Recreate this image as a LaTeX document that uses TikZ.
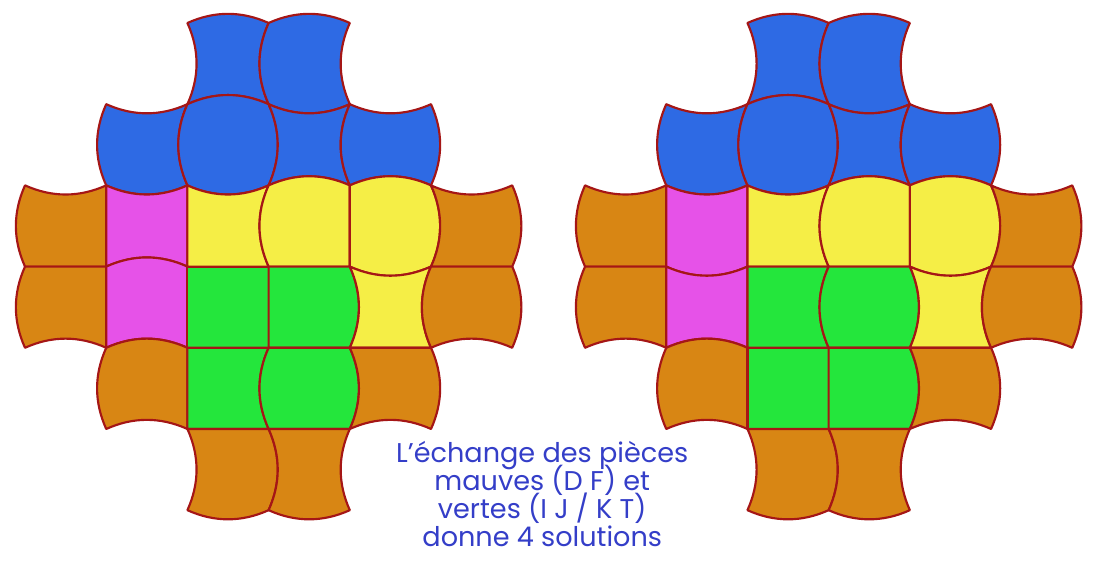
\documentclass[tikz,border=0pt]{standalone}
\usepackage{fontspec}
\setmainfont{Poppins}
\usepackage{xcolor}
\usepackage{tikz}
\usetikzlibrary{positioning}

\definecolor{bleu}{RGB}{46,106,228}
\definecolor{mauve}{RGB}{230,82,232}
\definecolor{jaune}{RGB}{245,238,70}
\definecolor{vert}{RGB}{36,230,60}
\definecolor{ocre}{RGB}{216,134,20}
\definecolor{bord}{RGB}{165,22,22}
\definecolor{texte}{RGB}{52,62,200}

\newcommand\serre{\fontsize{11.4}{11.8}\selectfont\setlength{\lineskiplimit}{-20pt}\relax}

\newcommand\bulge{0.15}
\newcommand\tile[7]{%
  \filldraw[piece, fill=#3, shift={(#1,#2)}]
    (0,0) .. controls +(1/3,{#4*\bulge}) and +(-1/3,{#4*\bulge}) .. (1,0)
          .. controls +({#5*\bulge},1/3) and +({#5*\bulge},-1/3) .. (1,1)
          .. controls +(-1/3,{#6*\bulge}) and +(1/3,{#6*\bulge}) .. (0,1)
          .. controls +({#7*\bulge},-1/3) and +({#7*\bulge},1/3) .. (0,0) -- cycle;}

\newcommand\board[3]{%
  \tile{2}{0}{bleu}{-1}{-1}{-1}{1}
  \tile{3}{0}{bleu}{-1}{-1}{1}{-1}
  \tile{1}{1}{bleu}{1}{-1}{1}{-1}
  \tile{2}{1}{bleu}{-1}{1}{1}{-1}
  \tile{3}{1}{bleu}{1}{-1}{-1}{1}
  \tile{4}{1}{bleu}{1}{1}{-1}{-1}
  \tile{0}{2}{ocre}{1}{0}{0}{-1}
  \tile{1}{2}{mauve}{1}{0}{#1}{0}
  \tile{2}{2}{jaune}{1}{-1}{0}{0}
  \tile{3}{2}{jaune}{-1}{0}{0}{-1}
  \tile{4}{2}{jaune}{-1}{1}{1}{0}
  \tile{5}{2}{ocre}{1}{1}{0}{1}
  \tile{0}{3}{ocre}{0}{0}{-1}{-1}
  \tile{1}{3}{mauve}{#1}{0}{-1}{0}
  \tile{2}{3}{vert}{0}{#2}{0}{0}
  \tile{3}{3}{vert}{0}{1}{0}{#2}
  \tile{4}{3}{jaune}{1}{-1}{0}{1}
  \tile{5}{3}{ocre}{0}{1}{-1}{-1}
  \tile{1}{4}{ocre}{-1}{0}{-1}{-1}
  \tile{2}{4}{vert}{0}{#3}{0}{0}
  \tile{3}{4}{vert}{0}{1}{0}{#3}
  \tile{4}{4}{ocre}{0}{1}{-1}{1}
  \tile{2}{5}{ocre}{0}{1}{1}{1}
  \tile{3}{5}{ocre}{0}{-1}{1}{1}}

\begin{document}
\begin{tikzpicture}[
  x=1.2cm, y=-1.2cm,
  piece/.style={draw=bord, line width=0.9pt, line join=round},
  legende/.style={text=texte, align=center, font=\serre}
]
\useasboundingbox (-0.308,-0.283) rectangle (13.165,6.700);

\begin{scope}
  \board{-1}{0}{-1}
\end{scope}
\begin{scope}[shift={(6.897,0)}]
  \board{1}{-1}{0}
\end{scope}

\node (texte) [legende, anchor=base] at (6.37,6.45) {L'échange des pièces\\mauves (D F) et\\vertes (I J / K T)\\donne 4 solutions};
\end{tikzpicture}
\end{document}
